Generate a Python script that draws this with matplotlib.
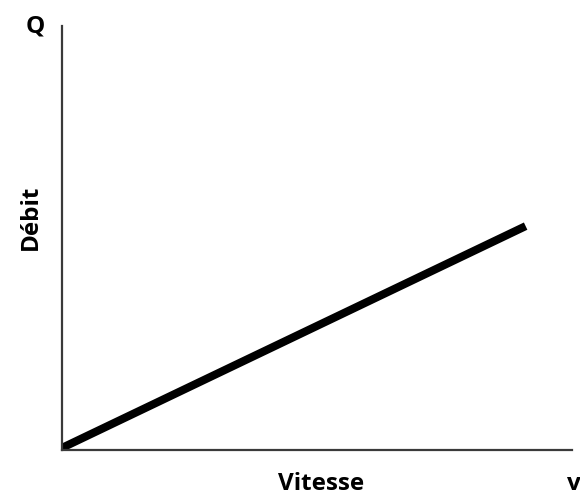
import matplotlib
matplotlib.use("Agg")
import matplotlib.pyplot as plt

# linear relation: debit vs vitesse
vitesse = [0, 10]
debit = [0.05, 5.28]

W, H = 580, 497
fig = plt.figure(figsize=(W / 100, H / 100), dpi=100)
ax = fig.add_axes([62 / W, 1 - 450 / H, 510 / W, 424 / H])

ax.plot(vitesse, debit, color='black', lw=5.8, solid_capstyle='butt')
ax.set_xlim(0, 11)
ax.set_ylim(0, 10)

for side in ['top', 'right']:
    ax.spines[side].set_visible(False)
for side in ['left', 'bottom']:
    ax.spines[side].set_color('#3a3a3a')
    ax.spines[side].set_linewidth(1.6)
ax.set_xticks([])
ax.set_yticks([])

font = dict(family='Open Sans', weight='bold', color='black')
fs = 17.5
fig.text(35 / W, 1 - 27 / H, 'Q', fontsize=fs, ha='center', va='center', **font)
fig.text(31 / W, 1 - 217 / H, 'Débit', fontsize=fs, rotation=90, ha='center', va='center', **font)
fig.text(321 / W, 1 - 484 / H, 'Vitesse', fontsize=fs, ha='center', va='center', **font)
fig.text(574 / W, 1 - 484 / H, 'v', fontsize=fs, ha='center', va='center', **font)

fig.savefig('out.png', dpi=100)
